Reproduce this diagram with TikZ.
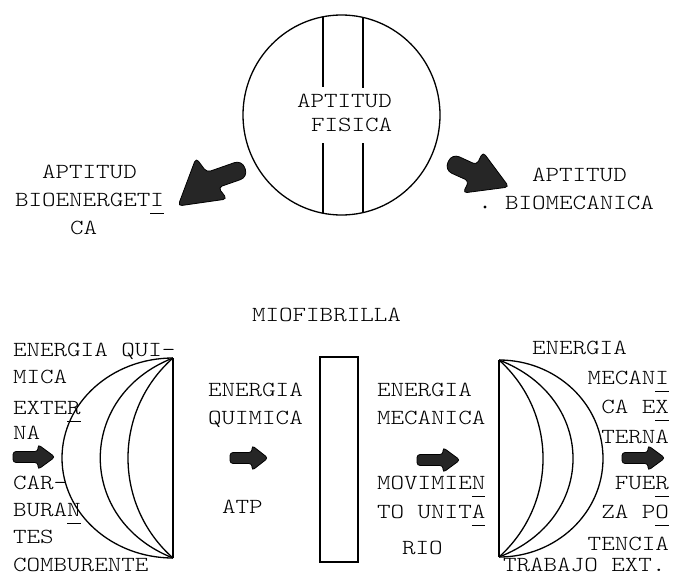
\documentclass[tikz,border=0pt]{standalone}
\usepackage{fontspec}
\usetikzlibrary{shapes.geometric}
% typewriter face, widened to a Courier-like pitch
\newfontfamily\typewriter[FakeStretch=1.2]{lmmonolt10-regular.otf}
% typewriter-style hyphen mark: a rule under one character
\newcommand\ulchar[1]{\setbox0\hbox{#1}\rlap{\rule[-7.6pt]{\wd0}{1.2pt}}\box0}

\tikzset{
  lbl/.style={inner sep=0pt, outer sep=0pt, anchor=base west,
              font=\typewriter\fontsize{21.5}{24}\selectfont},
  lblr/.style={lbl, anchor=base east},
  ink/.style={line width=1.3pt},
  heavy/.style={line width=2pt},
  stamp/.style={fill=black!85, draw=black, line width=0.8pt, rounded corners=#1},
  pics/fatarrow/.style args={#1/#2/#3/#4/#5}{code={
    \filldraw[stamp=#5] (0,-#2) -- (#1-#4,-#2) -- (#1-#4,-#3) -- (#1,0)
      -- (#1-#4,#3) -- (#1-#4,#2) -- (0,#2) -- cycle;
  }},
}

\begin{document}
\begin{tikzpicture}[x=1pt, y=-1pt]
\useasboundingbox (0,0) rectangle (685,581);

% ---------- physical aptitude ----------
\node[draw, ink, ellipse, minimum width=197pt, minimum height=200pt, inner sep=0pt]
  (fis) at (341.5,115) {};
\begin{scope}
  \clip (341.5,115) ellipse [x radius=98.5, y radius=100];
  \draw[heavy] (323,0) -- (323,87);
  \draw[heavy] (363,0) -- (363,88);
  \draw[heavy] (323,143) -- (323,230);
  \draw[heavy] (363,143) -- (363,230);
\end{scope}
\node[lbl] (fis1) at (297,107.5) {APTITUD};
\node[lbl] (fis2) at (311,131.5) {FISICA};

% stamped block arrows, pointing away from the circle
\filldraw[stamp=4] (178,206) -- (227,199) -- (218.2,187.4)
  [rounded corners=8] -- (248,177) -- (242,160)
  [rounded corners=4] -- (206.8,172.3) -- (196,158) -- cycle;
\filldraw[stamp=4] (509,187) -- (463,193) -- (468.9,181)
  [rounded corners=8] -- (444.5,170) -- (452,153.5)
  [rounded corners=4] -- (476.7,164.8) -- (483,152) -- cycle;

\node[lbl] (bio1) at (42,178.5) {APTITUD};
\node[lbl] (bio2) at (15,206.5) {BIOENERGET\ulchar{I}};
\node[lbl] (bio3) at (70,234.5) {CA};

\node[lbl] (mec1) at (532,181.5) {APTITUD};
\node[circle, fill=black, inner sep=1.1pt] (mecdot) at (485,207) {};
\node[lbl] (mec2) at (505,209.5) {BIOMECANICA};

% ---------- myofibril chain ----------
\node[lbl] (mio) at (252,321.5) {MIOFIBRILLA};

% left crescent
\draw[heavy] (173,358) -- (173,558);
\draw[ink] (173,358) arc[start angle=-90, end angle=-270, x radius=111, y radius=100];
\draw[ink] (173,358) .. controls (76,396) and (76,520) .. (173,558);
\draw[ink] (173,358) .. controls (113,411) and (113,505) .. (173,558);

% myofibril
\node[draw, heavy, minimum width=38pt, minimum height=205pt, inner sep=0pt]
  (fib) at (339,459.5) {};

% right crescent
\draw[heavy] (499,360) -- (499,557);
\draw[ink] (499,360) arc[start angle=-90, end angle=90, x radius=104, y radius=98.5];
\draw[ink] (499,360) .. controls (597.7,398) and (597.7,519) .. (499,557);
\draw[ink] (499,360) .. controls (557.7,413) and (557.7,504) .. (499,557);

% flow arrows
\pic (arrin)  at (13,457)  {fatarrow={42/5.5/12.5/17/3}};
\pic (arratp) at (230,458) {fatarrow={38/5.5/12.5/16/3}};
\pic (arrmov) at (417,460) {fatarrow={43/5.5/12.5/17/3}};
\pic (arrout) at (622,458) {fatarrow={43/5.5/12.5/17/3}};

% external chemical energy
\node[lbl] (in1) at (13,356.5) {ENERGIA QUI-};
\node[lbl] (in2) at (13,383.5) {MICA};
\node[lbl] (in3) at (13,414.5) {EXTE\ulchar{R}};
\node[lbl] (in4) at (13,439.5) {NA};
\node[lbl] (in5) at (13,489.5) {CAR-};
\node[lbl] (in6) at (13,516.5) {BURA\ulchar{N}};
\node[lbl] (in7) at (13,543.5) {TES};
\node[lbl] (in8) at (13,571.5) {COMBURENTE};

% chemical energy
\node[lbl] (ch1) at (208,396.5) {ENERGIA};
\node[lbl] (ch2) at (208,424.5) {QUIMICA};
\node[lbl] (atp) at (222,513.5) {ATP};

% mechanical energy
\node[lbl] (me1) at (377,396.5) {ENERGIA};
\node[lbl] (me2) at (377,424.5) {MECANICA};
\node[lbl] (me3) at (377,489.5) {MOVIMIE\ulchar{N}};
\node[lbl] (me4) at (377,518.5) {TO UNIT\ulchar{A}};
\node[lbl] (me5) at (402,554.5) {RIO};

% external mechanical energy
\node[lbl]  (out1) at (532,354.5) {ENERGIA};
\node[lblr] (out2) at (669,384.5) {MECAN\ulchar{I}};
\node[lblr] (out3) at (669,413.5) {CA E\ulchar{X}};
\node[lblr] (out4) at (669,443.5) {TERNA};
\node[lblr] (out5) at (669,489.5) {FUE\ulchar{R}};
\node[lblr] (out6) at (669,518.5) {ZA P\ulchar{O}};
\node[lblr] (out7) at (669,550.5) {TENCIA};
\node[lbl]  (out8) at (503,571) {TRABAJO EXT.};
\end{tikzpicture}
\end{document}
